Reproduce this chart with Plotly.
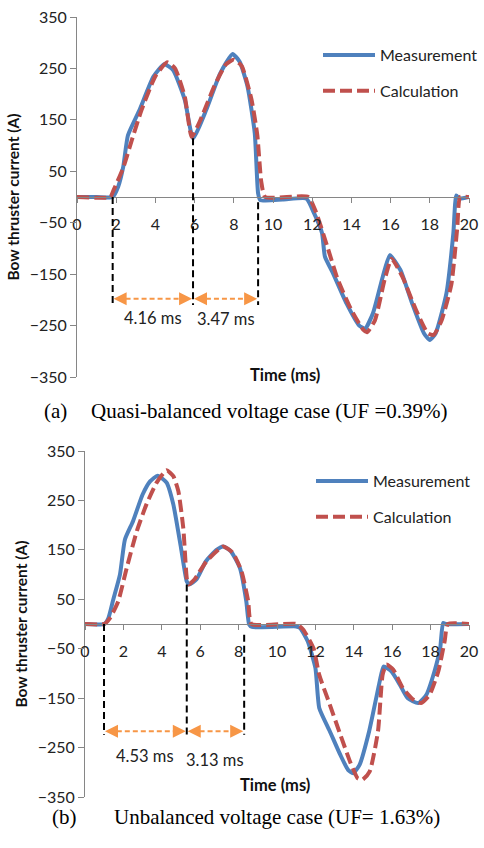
import plotly.graph_objects as go

# ---------------- data ----------------
# (a) quasi-balanced
t_meas_a = [0, 1.0, 1.82, 2.1, 2.36, 2.6, 3.2, 3.9, 4.45, 4.9, 5.5, 5.92, 6.6, 7.3, 7.94, 8.3, 8.7, 9.07, 9.24,
            9.35, 10.5, 11.7, 12.1, 12.5, 12.65, 13.07, 13.75, 14.4, 14.7, 15.1, 15.6, 15.96, 16.5, 17.1, 17.7,
            18.0, 18.3, 18.85, 19.2, 19.35, 19.5, 20]
v_meas_a = [0, 0, 0, 20, 59, 120, 170, 234, 258, 247, 189, 114, 170, 240, 278, 263, 215, 124, 7,
            -6, -5, -3, -32, -70, -116, -149, -207, -250, -256, -226, -155, -113, -142, -207, -265,
            -278, -265, -187, -71, 3, -3, 0]
t_calc_a = [0, 1.7, 1.85, 2.36, 2.8, 3.3, 4.0, 4.6, 5.0, 5.5, 5.85, 6.3, 7.0, 7.6, 8.0, 8.4, 8.9, 9.2, 9.4, 9.6,
            11.8, 12.2, 12.8, 13.3, 14.0, 14.6, 14.8, 15.2, 15.7, 16.05, 16.6, 17.3, 17.9, 18.2, 18.6, 19.1,
            19.4, 19.55, 20]
v_calc_a = [0, 0, 12, 57, 111, 170, 235, 262, 250, 195, 117, 150, 215, 258, 267, 255, 190, 120, 30, 0,
            0, -30, -100, -160, -220, -258, -263, -240, -160, -120, -155, -220, -265, -268, -240, -170,
            -60, 0, 0]

# (b) unbalanced
t_meas_b = [0, 1.0, 1.22, 1.47, 1.82, 2.08, 2.5, 3.0, 3.4, 3.78, 4.25, 4.6, 5.0, 5.3, 5.42, 5.8, 6.3, 6.85, 7.2,
            7.6, 8.07, 8.4, 8.55, 8.7, 11.0, 11.2, 11.6, 12.0, 12.2, 12.75, 13.3, 13.7, 13.96, 14.3, 14.8,
            15.35, 15.55, 15.96, 16.4, 16.8, 17.35, 17.78, 18.2, 18.5, 18.65, 18.8, 20]
v_meas_b = [0, 0, 12, 49, 100, 171, 208, 262, 289, 300, 286, 242, 154, 86, 80, 90, 127, 150, 157,
            147, 113, 46, -1, -6, -5, -8, -35, -89, -170, -217, -265, -295, -302, -285, -217,
            -116, -86, -96, -123, -150, -160, -143, -96, -49, 2, 0, 0]
t_calc_b = [0, 1.0, 1.3, 1.73, 2.17, 2.7, 3.2, 3.73, 4.25, 4.6, 4.86, 5.12, 5.3, 5.4, 5.7, 6.33, 7.2, 7.7, 8.15,
            8.5, 8.67, 11.0, 11.36, 11.9, 12.2, 12.75, 13.3, 13.8, 14.2, 14.45, 14.83, 15.26, 15.5, 15.7,
            16.05, 16.56, 17.1, 17.5, 17.95, 18.4, 18.73, 18.9, 20]
v_calc_b = [0, 0, 12, 46, 113, 188, 242, 286, 311, 299, 269, 194, 93, 80, 90, 127, 157, 144, 107,
            46, 0, 0, -11, -49, -103, -163, -224, -278, -312, -315, -298, -217, -103, -82,
            -92, -130, -153, -160, -143, -96, -35, 0, 0]

# interval markers
bounds_a = [1.82, 5.92, 9.24]
bound_tops_a = [0, 114, -10]
interval_labels_a = ["4.16 ms", "3.47 ms"]
bounds_b = [0.99, 5.3, 8.29]
bound_tops_b = [0, 80, -22]
interval_labels_b = ["4.53 ms", "3.13 ms"]

y_ticks = [350, 250, 150, 50, -50, -150, -250, -350]
x_ticks = list(range(0, 21, 2))

captions = [("(a)", "Quasi-balanced voltage case (UF =0.39%)"),
            ("(b)", "Unbalanced voltage case (UF= 1.63%)")]

# ---------------- style ----------------
W, H = 484, 848
BLUE = "#4F81BD"
RED = "#C0504D"
ORANGE = "#F79646"
AXIS = "#868686"
FONT = "Lato"


def px_x(p):
    return p / W


def px_y(p):
    return 1 - p / H


panels = [
    dict(t_m=t_meas_a, v_m=v_meas_a, t_c=t_calc_a, v_c=v_calc_a, bounds=bounds_a, tops=bound_tops_a,
         labels=interval_labels_a, xdom=(77, 469), ydom=(17, 377), legend_xy=(318, 38),
         arrow_y=-198, line_bot=-210, label_y=[-236, -238], time_xy=(285, 375), caption_y=411,
         cap_x=(42, 89), xa="x", ya="y", lg="legend"),
    dict(t_m=t_meas_b, v_m=v_meas_b, t_c=t_calc_b, v_c=v_calc_b, bounds=bounds_b, tops=bound_tops_b,
         labels=interval_labels_b, xdom=(85, 469), ydom=(451, 797), legend_xy=(311, 464),
         arrow_y=-217, line_bot=-224, label_y=[-267, -275], time_xy=(275, 797), caption_y=831,
         cap_x=(50, 112), xa="x2", ya="y2", lg="legend2"),
]

fig = go.Figure()
shapes = []
annotations = []
layout = {}

for i, p in enumerate(panels):
    sfx = "" if i == 0 else "2"
    fig.add_trace(go.Scatter(x=p["t_m"], y=p["v_m"], mode="lines", name="Measurement",
                             line=dict(color=BLUE, width=4, shape="spline", smoothing=0.5),
                             xaxis=p["xa"], yaxis=p["ya"], legend=p["lg"], legendgroup="m" + sfx))
    fig.add_trace(go.Scatter(x=p["t_c"], y=p["v_c"], mode="lines", name="Calculation",
                             line=dict(color=RED, width=4, dash="12px,5px", shape="spline", smoothing=0.5),
                             xaxis=p["xa"], yaxis=p["ya"], legend=p["lg"], legendgroup="c" + sfx))

    y0p, y1p = px_y(p["ydom"][1]), px_y(p["ydom"][0])
    zero_pos = y0p + (0 - (-350)) / 700 * (y1p - y0p)
    layout["xaxis" + sfx] = dict(domain=[px_x(p["xdom"][0]), px_x(p["xdom"][1])], range=[0, 20],
                                 anchor="free", position=zero_pos, tickvals=x_ticks, automargin=False,
                                 showline=True, linecolor=AXIS, linewidth=1, ticks="outside",
                                 ticklen=5, tickcolor=AXIS, showgrid=False, zeroline=False,
                                 ticklabelstandoff=8,
                                 tickfont=dict(family=FONT, size=16, color="#222"))
    layout["yaxis" + sfx] = dict(domain=[y0p, y1p], range=[-350, 350], anchor=p["xa"], tickvals=y_ticks,
                                 automargin=False,
                                 showline=True, linecolor=AXIS, linewidth=1, ticks="outside",
                                 ticklen=6, tickcolor=AXIS, showgrid=False, zeroline=False,
                                 tickfont=dict(family=FONT, size=16, color="#222"),
                                 title=dict(text="<b>Bow thruster current (A)</b>", standoff=6,
                                            font=dict(family=FONT, size=15.5, color="#111")))
    layout[p["lg"]] = dict(x=px_x(p["legend_xy"][0]), y=px_y(p["legend_xy"][1]), xanchor="left",
                           yanchor="top", bgcolor="rgba(0,0,0,0)", tracegroupgap=12, itemwidth=52,
                           font=dict(family=FONT, size=16, color="#222"))

    b = p["bounds"]
    for bx, top in zip(b, p["tops"]):
        shapes.append(dict(type="line", xref=p["xa"], yref=p["ya"], x0=bx, x1=bx, y0=top, y1=p["line_bot"],
                           line=dict(color="black", width=2, dash="7px,4px")))
    for k in range(2):
        xs, xe = b[k], b[k + 1]
        shapes.append(dict(type="line", xref=p["xa"], yref=p["ya"], x0=xs + 0.25, x1=xe - 0.25,
                           y0=p["arrow_y"], y1=p["arrow_y"], line=dict(color=ORANGE, width=2, dash="5px,3px")))
        for head, tail in ((xs + 0.05, xs + 0.5), (xe - 0.05, xe - 0.5)):
            annotations.append(dict(xref=p["xa"], yref=p["ya"], axref=p["xa"], ayref=p["ya"],
                                    x=head, y=p["arrow_y"], ax=tail, ay=p["arrow_y"], text="",
                                    showarrow=True, arrowhead=2, arrowsize=1.3, arrowwidth=2,
                                    arrowcolor=ORANGE))
        annotations.append(dict(xref=p["xa"], yref=p["ya"], x=(xs + xe) / 2, y=p["label_y"][k],
                                text=p["labels"][k], showarrow=False,
                                font=dict(family=FONT, size=16.5, color="#222")))

    annotations.append(dict(xref="paper", yref="paper", x=px_x(p["time_xy"][0]), y=px_y(p["time_xy"][1]),
                            text="<b>Time (ms)</b>", showarrow=False,
                            font=dict(family=FONT, size=16.5, color="#111")))
    lab, cap = captions[i]
    annotations.append(dict(xref="paper", yref="paper", x=px_x(p["cap_x"][0]), y=px_y(p["caption_y"]),
                            xanchor="left", text=lab, showarrow=False,
                            font=dict(family="Liberation Serif", size=21, color="black")))
    annotations.append(dict(xref="paper", yref="paper", x=px_x(p["cap_x"][1]), y=px_y(p["caption_y"]),
                            xanchor="left", text=cap, showarrow=False,
                            font=dict(family="Liberation Serif", size=21, color="black")))

fig.update_layout(width=W, height=H, margin=dict(l=0, r=0, t=0, b=0, autoexpand=False),
                  paper_bgcolor="white", plot_bgcolor="white", shapes=shapes, annotations=annotations,
                  showlegend=True, **layout)

fig.write_html("out.html")
